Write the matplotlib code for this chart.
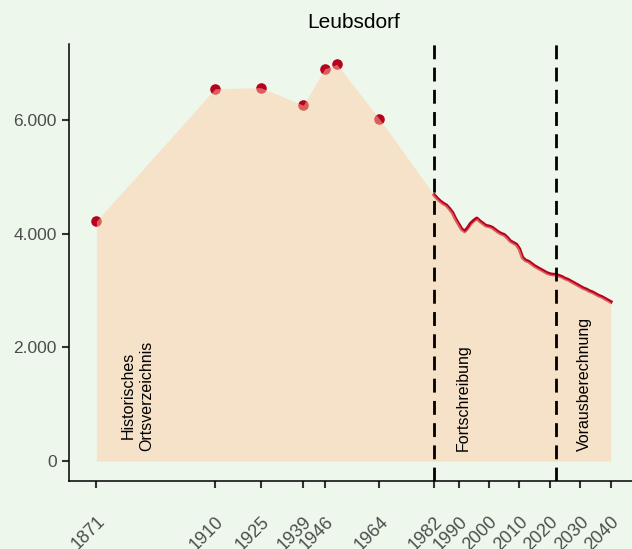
import matplotlib.pyplot as plt
import matplotlib.transforms as mtransforms

plt.rcParams['font.family'] = ['Liberation Sans', 'DejaVu Sans']

# historische Werte (Punkte)
hist_years = [1871, 1910, 1925, 1939, 1946, 1950, 1964]
hist_pop = [4220, 6550, 6570, 6260, 6900, 6980, 6020]

# Fortschreibung + Vorausberechnung (jährlich)
proj_years = list(range(1982, 2041))
proj_pop = [4680, 4620, 4570, 4530, 4500, 4440, 4370, 4260, 4170, 4080,
            4040, 4100, 4180, 4230, 4270, 4220, 4180, 4140, 4130, 4110,
            4070, 4030, 4000, 3980, 3930, 3870, 3840, 3810, 3730, 3580,
            3530, 3510, 3470, 3430, 3400, 3370, 3340, 3310, 3290, 3280,
            3280, 3260, 3240, 3210, 3190, 3160, 3130, 3100, 3070, 3040,
            3020, 2990, 2970, 2940, 2910, 2890, 2860, 2830, 2800]

tick_years = [1871, 1910, 1925, 1939, 1946, 1964, 1982, 1990, 2000, 2010, 2020, 2030, 2040]
y_ticks = [0, 2000, 4000, 6000]
y_labels = ['0', '2.000', '4.000', '6.000']
breaks = [1982, 2022]
section_labels = ['Historisches\nOrtsverzeichnis', 'Fortschreibung', 'Vorausberechnung']
section_x = [1884.6, 1991.4, 2031.5]

bg = '#edf7ec'
fig = plt.figure(figsize=(6.32, 5.49), dpi=100, facecolor=bg)
ax = fig.add_axes([69 / 632, 68 / 549, 563 / 632, 437 / 549])
ax.set_facecolor(bg)

# Punkte und Linie liegen unter der halbtransparenten Fläche
ax.scatter(hist_years, hist_pop, s=58, color='#b8001f', lw=0, zorder=2)
ax.plot(proj_years, proj_pop, color='#b8001f', lw=2.6, zorder=2)

all_years = hist_years + proj_years
all_pop = hist_pop + proj_pop
ax.fill_between(all_years, all_pop, 0, color='#ffcba3', alpha=0.47, lw=0, zorder=3)

for b in breaks:
    ax.axvline(b, color='black', lw=2, ls=(0, (5, 3)), zorder=4)

for x, t in zip(section_x, section_labels):
    ax.text(x, 176, t, rotation=90, ha='center', va='bottom', fontsize=11.5,
            linespacing=1.3, zorder=7)

ax.set_xlim(1862, 2047)
ax.set_ylim(-352, 7338)
ax.set_xticks(tick_years)
ax.set_xticklabels([str(y) for y in tick_years], rotation=45, ha='right', va='top',
                   rotation_mode='anchor', fontsize=13, color='#4d4d4d')
shift = mtransforms.ScaledTranslation(-3 / 100, 0, fig.dpi_scale_trans)
for lab in ax.get_xticklabels():
    lab.set_transform(lab.get_transform() + shift)
ax.set_yticks(y_ticks)
ax.set_yticklabels(y_labels, fontsize=12.5, color='#4d4d4d')
ax.tick_params(axis='x', length=5, width=1.5, color='#333333', pad=18)
ax.tick_params(axis='y', length=5, width=1.5, color='#333333', pad=4)

for s in ['top', 'right']:
    ax.spines[s].set_visible(False)
for s in ['left', 'bottom']:
    ax.spines[s].set_linewidth(1.1)

fig.text(354 / 632, 1 - 23 / 549, 'Leubsdorf', ha='center', va='center', fontsize=15)

fig.savefig('out.png', dpi=100, facecolor=bg)
